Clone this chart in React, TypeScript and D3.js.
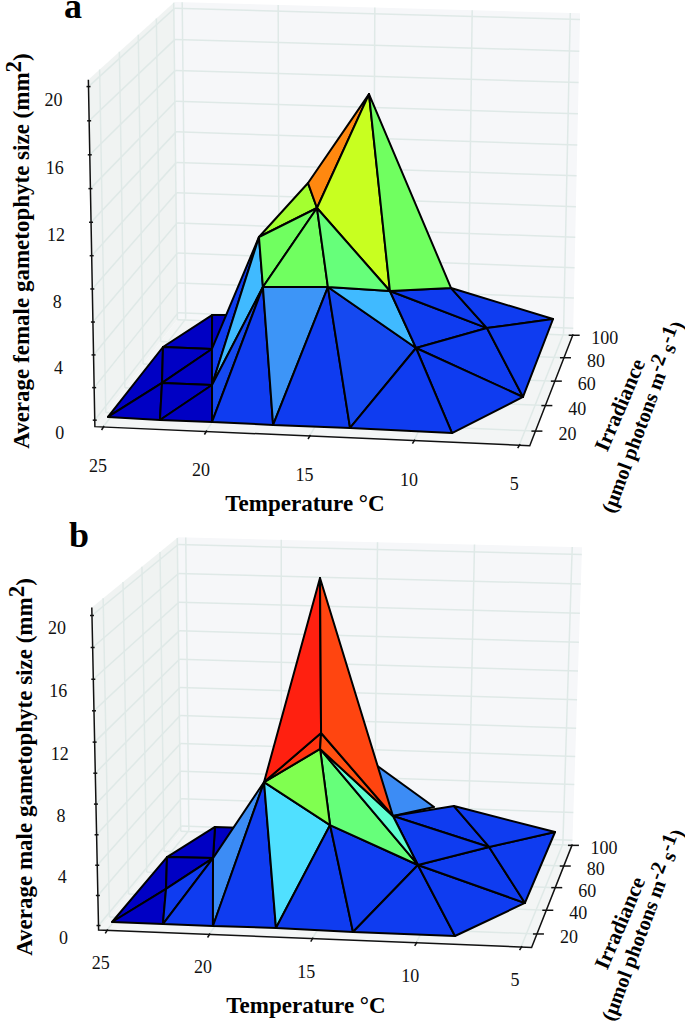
import React from "react";
import * as d3 from "d3";

const temperatureTicks = [25, 20, 15, 10, 5];
const irradianceTicks = [20, 40, 60, 80, 100];
const sizeTicks = [0, 2, 4, 6, 8, 10, 12, 14, 16, 18, 20];
const sizeLabels = [0, 4, 8, 12, 16, 20];

const femaleTemperature = [24.8,22.27,19.74,16.79,13.09,8.22,5.6,5.54,8.2,10.88,10.89,13.14,15.23,18.44,19.82,16.86,18.42,14.25,23.52,24.82,21.01,22.28,23.54,22.05];
const femaleIrradiance = [10,10,10,10,10,10,40,100,70,40,100,70,40,40,70,70,100,70,40,70,40,70,100,100];
const femaleSize = [0.15,0.1,0.12,0.1,0.12,0.08,0.08,0.63,2.07,2.87,2.42,4.21,6.45,6.3,7.36,9.34,9.0,16.61,0.01,0,0.01,0,0,0.08];
const femaleFaces = [
  [22,21,23,0],[19,21,22,0],[0,18,19,0],[18,19,21,0],[18,21,20,0],[0,1,18,0],[1,18,20,0],[1,20,2,0],
  [14,21,20,1],[14,20,13,4],[20,2,13,1.5],[2,3,13,1],[13,3,12,3.2],[3,4,12,1],[4,9,12,1.5],[12,9,11,4],
  [11,9,8,1],[11,8,10,1],[10,8,7,1],[9,6,8,1],[8,6,7,1],[9,5,6,1],[9,4,5,1],
  [16,14,15,10],[16,15,17,12],[15,11,17,11],[11,10,17,8],[14,13,15,8],[13,12,15,8],[12,11,15,7.3],
];

const maleTemperature = [24.78,22.29,19.85,16.79,13.07,8.18,5.56,5.41,8.13,10.88,10.77,13.07,15.25,18.53,16.83,17.85,16.87,16.84,11.82,23.49,24.79,22.38,23.54,21.92];
const maleIrradiance = [10,10,10,10,10,10,40,100,70,40,100,70,40,40,70,100,70,100,100,40,70,70,100,100];
const maleSize = [0.19,0.19,0.19,0.23,0.17,0.17,0.14,0.62,1.6,2.44,2.23,3.52,4.92,7.65,7.99,7.14,19.54,6.76,2.11,0.15,0.05,0.1,0.1,0.1];
const maleFaces = [
  [17,18,11,3],[22,21,23,0],[20,21,22,0],[0,19,20,0],[19,20,21,0],[0,1,19,0],[1,19,21,1],[1,21,2,1],
  [13,21,2,3],[13,2,3,1],[13,3,12,5],[3,4,12,1],[4,9,12,1],[4,5,9,1],[5,6,9,1],[9,6,8,1],[8,6,7,1],
  [11,8,10,1],[10,8,7,1],[11,9,8,1],[12,9,14,7.3],[14,9,11,6],[13,12,14,9],
  [13,15,14,14.5],[15,14,11,13],[13,16,15,15],[16,15,11,14],
];

const levelStops = [0,1,2,3,4,5,6,7,8,9,10,11,12,13,14,15];
const levelColours = ["#0000c4","#0f3cf0","#1a55f0","#3c8cf5","#40baff","#50e0ff","#60ffd0","#62ff85","#70ff60","#80ff50","#a4ff30","#c8ff20","#ff8810","#ff5010","#ff4510","#ff2010"];

const colour = d3.scaleLinear<string>().domain(levelStops).range(levelColours).interpolate(d3.interpolateRgb);
const tScale = d3.scaleLinear().domain([25.4, 4.5]).range([0, 1]);
const iScale = d3.scaleLinear().domain([9, 101]).range([0, 1]);

type Corner = number[];
function fit(pts: Corner[]) {
  const R: number[][] = []; const Y: number[] = [];
  for (const [x, y, z, u, v] of pts) {
    R.push([x,y,z,1,0,0,0,0,-u*x,-u*y,-u*z]); Y.push(u);
    R.push([0,0,0,0,x,y,z,1,-v*x,-v*y,-v*z]); Y.push(v);
  }
  const n = 11; const M: number[][] = [];
  for (let i = 0; i < n; i++) {
    M.push(new Array(n + 1).fill(0));
    for (let j = 0; j < n; j++) for (let k = 0; k < R.length; k++) M[i][j] += R[k][i] * R[k][j];
    for (let k = 0; k < R.length; k++) M[i][n] += R[k][i] * Y[k];
  }
  for (let i = 0; i < n; i++) {
    let p = i; for (let r = i; r < n; r++) if (Math.abs(M[r][i]) > Math.abs(M[p][i])) p = r;
    [M[i], M[p]] = [M[p], M[i]];
    for (let r = 0; r < n; r++) if (r !== i) { const f = M[r][i] / M[i][i]; for (let c = i; c <= n; c++) M[r][c] -= f * M[i][c]; }
  }
  return M.map((r, i) => r[n] / r[i]);
}

const serif = "'Liberation Serif','Times New Roman',serif";
const gridCol = "#dfe9e7";

function Panel(props: any) {
  const { corners, zDom, T, I, Z, faces, letter, letterPos, yTitle, yTitleX, yTitleY, tempPos, irrPos, irr2Pos, zOff, tOff, iOff } = props;
  const p = fit(corners);
  const zScale = d3.scaleLinear().domain(zDom).range([0, 1]);
  const proj = (x: number, y: number, z: number): [number, number] => {
    const w = p[8]*x + p[9]*y + p[10]*z + 1;
    return [(p[0]*x + p[1]*y + p[2]*z + p[3]) / w, (p[4]*x + p[5]*y + p[6]*z + p[7]) / w];
  };
  const line = d3.line();
  const poly = (pts: [number, number][]) => line(pts) + "Z";
  const verts = T.map((t: number, i: number) => proj(tScale(t), iScale(I[i]), zScale(Z[i])));
  const gl: [number, number][][] = [];
  for (const t of temperatureTicks) { gl.push([proj(tScale(t),1,0),proj(tScale(t),1,1)]); gl.push([proj(tScale(t),0,0),proj(tScale(t),1,0)]); }
  for (const i of irradianceTicks) { gl.push([proj(0,iScale(i),0),proj(0,iScale(i),1)]); gl.push([proj(0,iScale(i),0),proj(1,iScale(i),0)]); }
  for (const z of sizeTicks) { gl.push([proj(0,1,zScale(z)),proj(1,1,zScale(z))]); gl.push([proj(0,0,zScale(z)),proj(0,1,zScale(z))]); }
  const txt = { fontFamily: serif, fill: "#111" };
  return (
    <g>
      <path d={poly([proj(0,1,0),proj(1,1,0),proj(1,1,1),proj(0,1,1)])} fill="#f6f7f9" />
      <path d={poly([proj(0,0,0),proj(0,1,0),proj(0,1,1),proj(0,0,1)])} fill="#f0f3f2" />
      <path d={poly([proj(0,0,0),proj(1,0,0),proj(1,1,0),proj(0,1,0)])} fill="#f3f5f5" />
      {gl.map((g, i) => <path key={i} d={line(g)!} stroke={gridCol} strokeWidth={1.5} fill="none" />)}
      <path d={line([proj(0,0,1),proj(0,0,0),proj(1,0,0),proj(1,1,0)])!} fill="none" stroke="#111" strokeWidth={1.5} />
      {sizeTicks.map(z => { const [x,y]=proj(0,0,zScale(z)); return <path key={z} d={`M${x-2},${y}L${x+2},${y}`} stroke="#111" strokeWidth={1.5}/>; })}
      {temperatureTicks.map(t => { const [x,y]=proj(tScale(t),0,0); return <path key={t} d={`M${x+1},${y-1}L${x-1.5},${y+3}`} stroke="#111" strokeWidth={1.5}/>; })}
      {irradianceTicks.map(i => { const [x,y]=proj(1,iScale(i),0); return <path key={i} d={`M${x-4},${y}L${x+7},${y}`} stroke="#111" strokeWidth={1.5}/>; })}
      {faces.map((f: number[], i: number) => (
        <path key={i} d={poly([verts[f[0]],verts[f[1]],verts[f[2]]])} fill={colour(f[3])} stroke="#000" strokeWidth={2} strokeLinejoin="round" />
      ))}
      {sizeLabels.map(z => { const [x,y]=proj(0,0,zScale(z)); return <text key={z} x={x+zOff[0]} y={y+zOff[1]} textAnchor="middle" dominantBaseline="central" fontSize={18} {...txt}>{z}</text>; })}
      {temperatureTicks.map(t => { const [x,y]=proj(tScale(t),0,0); return <text key={t} x={x+tOff[0]} y={y+tOff[1]} textAnchor="middle" dominantBaseline="central" fontSize={18} {...txt}>{t}</text>; })}
      {irradianceTicks.map(i => { const [x,y]=proj(1,iScale(i),0); return <text key={i} x={x+iOff[0]} y={y+iOff[1]} textAnchor="middle" dominantBaseline="central" fontSize={18} {...txt}>{i}</text>; })}
      <text x={letterPos[0]} y={letterPos[1]} textAnchor="middle" fontSize={36} fontWeight="bold" fontFamily={serif} fill="#000">{letter}</text>
      <text transform={`translate(${yTitleX},${yTitleY}) rotate(-90)`} fontSize={23} fontWeight="bold" fontFamily={serif} fill="#000" textAnchor="middle">
        {yTitle} (mm<tspan dy={-8}>2</tspan><tspan dy={8}>)</tspan>
      </text>
      <text x={tempPos[0]} y={tempPos[1]} textAnchor="middle" dominantBaseline="central" fontSize={23} fontWeight="bold" fontFamily={serif} fill="#000">Temperature °C</text>
      <text transform={`translate(${irrPos[0]},${irrPos[1]}) rotate(-67)`} textAnchor="middle" dominantBaseline="central" fontSize={21.5} fontWeight="bold" fontFamily={serif} fill="#000">Irradiance</text>
      <text transform={`translate(${irr2Pos[0]},${irr2Pos[1]}) rotate(-69.5)`} textAnchor="middle" dominantBaseline="central" fontSize={20.5} fontWeight="bold" fontFamily={serif} fill="#000">
        (µmol photons m<tspan dy={-6}>-2</tspan><tspan dy={6}> s</tspan><tspan dy={-6}>-1</tspan><tspan dy={6}>)</tspan>
      </text>
    </g>
  );
}

const cornersA = [[0,0,0,95,427],[1,0,0,530,445],[1,1,0,573,335],[0,1,0,178,318],[0,0,1,88,80],[0,1,1,175,2],[1,1,1,580,13]];
const cornersB = [[0,0,0,98,930],[1,0,0,532,947],[1,1,0,572,845],[0,1,0,182,830],[0,0,1,92,608],[0,1,1,178,537],[1,1,1,582,547]];

export default function App() {
  return (
    <svg width={685} height={1029} viewBox="0 0 685 1029" style={{ position: "absolute", left: 0, top: 0, background: "#fff" }}>
      <Panel corners={cornersA} zDom={[-0.4,20.4]} T={femaleTemperature} I={femaleIrradiance} Z={femaleSize} faces={femaleFaces}
        letter="a" letterPos={[73,18]} yTitle="Average female gametophyte size" yTitleX={29} yTitleY={251}
        tempPos={[305,503]} irrPos={[620,405]} irr2Pos={[643,417]} zOff={[-35,13]} tOff={[-5,39]} iOff={[32,3]} />
      <Panel corners={cornersB} zDom={[-0.3,20.5]} T={maleTemperature} I={maleIrradiance} Z={maleSize} faces={maleFaces}
        letter="b" letterPos={[79,547]} yTitle="Average male gametophyte size" yTitleX={31.5} yTitleY={767}
        tempPos={[306,1005]} irrPos={[620,923]} irr2Pos={[643,925]} zOff={[-35,12]} tOff={[-6,33]} iOff={[32,3]} />
    </svg>
  );
}
